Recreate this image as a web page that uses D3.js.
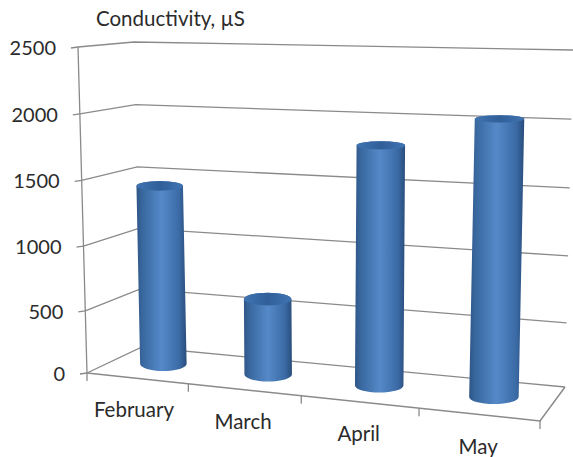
<!DOCTYPE html>
<html>
<head>
<meta charset="utf-8">
<script src="https://cdn.jsdelivr.net/npm/d3@7"></script>
<style>
  html, body { margin: 0; padding: 0; background: #fff; }
  text { font-family: Lato, "Open Sans", sans-serif; fill: #2b2b2b; }
</style>
</head>
<body>
<div id="chart"></div>
<script>
const categories = ['February', 'March', 'April', 'May'];
const conductivity = [1420, 600, 1800, 2020];
const yTicks = [0, 500, 1000, 1500, 2000, 2500];
const yTitle = 'Conductivity, µS';

const width = 573;
const height = 457;

// Corners of the 3D box as they land on the page
const floor = { fl: [87, 373], bl: [142, 347], br: [565, 387], fr: [540, 421] };
const roof = { fl: [78, 47], bl: [134, 42], br: [573, 50], fr: [551, 53] };

// Scales run 0..1 along the box, the exponents stand in for the perspective
const band = d3.scaleBand().domain(categories).range([0, 1]);
const along = d3.scalePow().exponent(1.08).domain([0, 1]).range([0, 1]);
const up = d3.scalePow().exponent(1.03).domain([0, 2500]).range([0, 1]);

const mix = (a, b, t) => [a[0] + (b[0] - a[0]) * t, a[1] + (b[1] - a[1]) * t];

// u = along the categories, v = depth (0 front, 1 back), value = height
function project(u, v, value) {
  const s = along(u);
  const h = up(value);
  const low = mix(mix(floor.fl, floor.fr, s), mix(floor.bl, floor.br, s), v);
  const high = mix(mix(roof.fl, roof.fr, s), mix(roof.bl, roof.br, s), v);
  return mix(low, high, h);
}

const svg = d3.select('#chart')
  .append('svg')
  .attr('width', width)
  .attr('height', height)
  .style('display', 'block');

// Bar gradients
const defs = svg.append('defs');
const side = defs.append('linearGradient').attr('id', 'side');
[[0, '#2f5687'], [0.12, '#39689f'], [0.5, '#5589c8'], [0.85, '#3b6ba6'], [1, '#2a4d7c']]
  .forEach(([o, c]) => side.append('stop').attr('offset', o).attr('stop-color', c));
const cap = defs.append('linearGradient').attr('id', 'cap');
[[0, '#3f74b3'], [0.5, '#315f98'], [1, '#3f74b3']]
  .forEach(([o, c]) => cap.append('stop').attr('offset', o).attr('stop-color', c));

const line = d3.line();
const gridColor = '#8a8a8a';

// Gridlines: left wall then back wall
svg.append('g')
  .selectAll('path')
  .data(yTicks)
  .enter()
  .append('path')
  .attr('d', (d) => line([project(0, 0, d), project(0, 1, d), project(1, 1, d)]))
  .attr('fill', 'none')
  .attr('stroke', gridColor)
  .attr('stroke-width', 1.3);

// Value axis and its ticks
svg.append('path')
  .attr('d', line([project(0, 0, 0), project(0, 0, 2500)]))
  .attr('stroke', gridColor)
  .attr('stroke-width', 1.3);

svg.append('g')
  .selectAll('path')
  .data(yTicks)
  .enter()
  .append('path')
  .attr('d', (d) => {
    const p = project(0, 0, d);
    return line([[p[0] - 7, p[1] + 1], p]);
  })
  .attr('stroke', gridColor)
  .attr('stroke-width', 1.3);

svg.append('g')
  .selectAll('text')
  .data(yTicks)
  .enter()
  .append('text')
  .attr('x', (d) => project(0, 0, d)[0] - 22)
  .attr('y', (d) => project(0, 0, d)[1] + 8)
  .attr('text-anchor', 'end')
  .attr('font-size', 20)
  .text((d) => d);

// Floor outline
svg.append('path')
  .attr('d', line([floor.fl, floor.fr, floor.br]))
  .attr('fill', 'none')
  .attr('stroke', gridColor)
  .attr('stroke-width', 1.5);

// Category ticks under the front edge
const edges = [0, 0.25, 0.5, 0.75, 1];
svg.append('g')
  .selectAll('path')
  .data(edges)
  .enter()
  .append('path')
  .attr('d', (d) => {
    const p = project(d, 0, 0);
    return line([p, [p[0], p[1] + 8]]);
  })
  .attr('stroke', gridColor)
  .attr('stroke-width', 1.3);

// Cylinders
function cylinder(d, i) {
  const center = band(categories[i]) + band.bandwidth() / 2;
  const u = center * 0.995 + 0.003;
  const base = project(u, 0.53, 0);
  const top = project(u, 0.53, d);
  const r = 23 + u * 2;
  const ryBase = 7;
  const ryTop = 7.5 - 4.8 * up(d);
  return {
    body: `M${top[0] - r},${top[1]} L${base[0] - r},${base[1]} `
      + `A${r},${ryBase} 0 0 0 ${base[0] + r},${base[1]} `
      + `L${top[0] + r},${top[1]} `
      + `A${r},${ryTop} 0 0 0 ${top[0] - r},${top[1]} Z`,
    top, r, ryTop,
  };
}

const bars = svg.append('g')
  .selectAll('g')
  .data(conductivity.map(cylinder))
  .enter()
  .append('g');

bars.append('path')
  .attr('d', (d) => d.body)
  .attr('fill', 'url(#side)');

bars.append('ellipse')
  .attr('cx', (d) => d.top[0])
  .attr('cy', (d) => d.top[1])
  .attr('rx', (d) => d.r)
  .attr('ry', (d) => d.ryTop)
  .attr('fill', 'url(#cap)');

// Category labels
svg.append('g')
  .selectAll('text')
  .data(categories)
  .enter()
  .append('text')
  .attr('x', (d) => project(band(d) + band.bandwidth() / 2, 0, 0)[0] - 1)
  .attr('y', (d) => project(band(d) + band.bandwidth() / 2, 0, 0)[1] + 39)
  .attr('text-anchor', 'middle')
  .attr('font-size', 20.5)
  .text((d) => d);

svg.append('text')
  .attr('x', 96)
  .attr('y', 26)
  .attr('font-size', 20.5)
  .text(yTitle);
</script>
</body>
</html>
